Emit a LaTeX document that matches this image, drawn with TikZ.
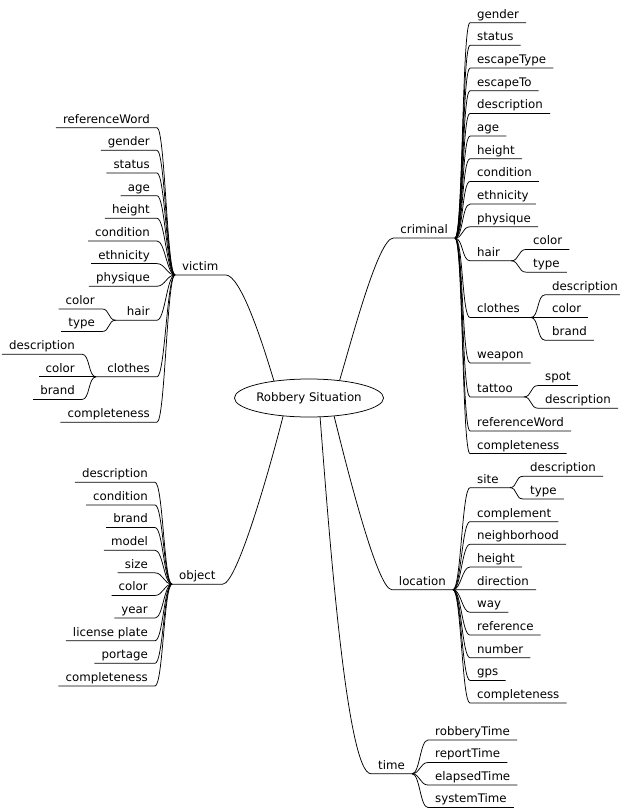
\documentclass[tikz,border=0pt]{standalone}
\usepackage{fontspec}
\setmainfont{DejaVu Sans}
\usetikzlibrary{shapes.geometric}
\begin{document}
\begin{tikzpicture}[x=1pt,y=-1pt,
  lab/.style={inner xsep=7pt, inner ysep=1.8pt, text height=8.7pt, text depth=2.6pt, font=\fontsize{11.8}{13}\selectfont},
  lft/.style={lab, anchor=south east},
  rgt/.style={lab, anchor=south west},
  link/.style={line width=0.75pt, draw=black},
  rootnode/.style={draw, line width=0.75pt, ellipse, fill=white, minimum width=128pt, minimum height=38pt, inner sep=0pt, font=\fontsize{11.8}{13}\selectfont}]
\useasboundingbox (0,0) rectangle (620,809);

% root
\node[rootnode] (root) at (309,398) {Robbery Situation};

% main branches
\node[lab, anchor=south west] (victim) at (175,274.9) {victim};
\node[lab, anchor=south east] (criminal) at (455,238.1) {criminal};
\node[lab, anchor=south west] (object) at (172,584.15) {object};
\node[lab, anchor=south east] (location) at (453,589.7) {location};
\node[lab, anchor=south east] (time) at (412,773.75) {time};

% victim children
\node[lft] (v1) at (157,127.7) {referenceWord};
\node[lft] (v2) at (157,150.35) {gender};
\node[lft] (v3) at (157,173.0) {status};
\node[lft] (v4) at (157,195.65) {age};
\node[lft] (v5) at (157,218.3) {height};
\node[lft] (v6) at (157,240.95) {condition};
\node[lft] (v7) at (157,263.6) {ethnicity};
\node[lft] (v8) at (157,286.25) {physique};
\node[lft] (vhair) at (157,320.2) {\kern4pt hair};
\node[lft] (vh1) at (102,308.9) {color};
\node[lft] (vh2) at (102,331.55) {type};
\node[lft] (vclothes) at (157,376.85) {\kern4pt clothes};
\node[lft] (vc1) at (82,354.2) {description};
\node[lft] (vc2) at (82,376.85) {color};
\node[lft] (vc3) at (82,399.5) {brand};
\node[lft] (v9) at (157,422.15) {completeness};

% criminal children
\node[rgt] (c1) at (470,22.68) {gender};
\node[rgt] (c2) at (470,45.36) {status};
\node[rgt] (c3) at (470,68.04) {escapeType};
\node[rgt] (c4) at (470,90.72) {escapeTo};
\node[rgt] (c5) at (470,113.4) {description};
\node[rgt] (c6) at (470,136.08) {age};
\node[rgt] (c7) at (470,158.76) {height};
\node[rgt] (c8) at (470,181.44) {condition};
\node[rgt] (c9) at (470,204.12) {ethnicity};
\node[rgt] (c10) at (470,226.8) {physique};
\node[rgt] (chair) at (470,260.82) {hair\kern4pt};
\node[rgt] (ch1) at (526,249.48) {color};
\node[rgt] (ch2) at (526,272.16) {type};
\node[rgt] (cclothes) at (470,317.52) {clothes\kern4pt};
\node[rgt] (cc1) at (545,294.84) {description};
\node[rgt] (cc2) at (545,317.52) {color};
\node[rgt] (cc3) at (545,340.2) {brand};
\node[rgt] (c11) at (470,362.88) {weapon};
\node[rgt] (ctattoo) at (470,396.9) {tattoo\kern4pt};
\node[rgt] (ct1) at (538,385.56) {spot};
\node[rgt] (ct2) at (538,408.24) {description};
\node[rgt] (c12) at (470,430.92) {referenceWord};
\node[rgt] (c13) at (470,453.6) {completeness};

% location children
\node[rgt] (lsite) at (470,487.65) {site\kern4pt};
\node[rgt] (ls1) at (523,476.28) {description};
\node[rgt] (ls2) at (523,498.96) {type};
\node[rgt] (l1) at (470,521.64) {complement};
\node[rgt] (l2) at (470,544.32) {neighborhood};
\node[rgt] (l3) at (470,567.0) {height};
\node[rgt] (l4) at (470,589.68) {direction};
\node[rgt] (l5) at (470,612.36) {way};
\node[rgt] (l6) at (470,635.04) {reference};
\node[rgt] (l7) at (470,657.72) {number};
\node[rgt] (l8) at (470,680.4) {gps};
\node[rgt] (l9) at (470,703.08) {completeness};

% time children
\node[rgt] (t1) at (428,740) {robberyTime};
\node[rgt] (t2) at (428,762.5) {reportTime};
\node[rgt] (t3) at (428,785) {elapsedTime};
\node[rgt] (t4) at (428,807.5) {systemTime};

% object children
\node[lft] (o1) at (155,482.3) {description};
\node[lft] (o2) at (155,504.93) {condition};
\node[lft] (o3) at (155,527.56) {brand};
\node[lft] (o4) at (155,550.19) {model};
\node[lft] (o5) at (155,572.82) {size};
\node[lft] (o6) at (155,595.45) {color};
\node[lft] (o7) at (155,618.08) {year};
\node[lft] (o8) at (155,640.71) {license plate};
\node[lft] (o9) at (155,663.34) {portage};
\node[lft] (o10) at (155,685.97) {completeness};

% root connectors
\draw[link] (root.154.7) .. controls +(-12,-40) and +(15,0) .. (victim.south east) -- (victim.south west);
\draw[link] (root.30.4) .. controls +(12,-40) and +(-15,0) .. (criminal.south west) -- (criminal.south east);
\draw[link] (root.215) .. controls +(-10,40) and +(15,0) .. (object.south east) -- (object.south west);
\draw[link] (root.324) .. controls +(10,40) and +(-15,0) .. (location.south west) -- (location.south east);
\draw[link] (root.300) .. controls +(8,100) and +(-25,0) .. (time.south west) -- (time.south east);

% left-side child connectors
\foreach \p/\cl in {victim/{v1,v2,v3,v4,v5,v6,v7,v8,vhair,vclothes,v9}, vhair/{vh1,vh2}, vclothes/{vc1,vc2,vc3}, object/{o1,o2,o3,o4,o5,o6,o7,o8,o9,o10}}
  \foreach \c in \cl
    \draw[link] (\p.south west) .. controls +(-8,0) and +(8,0) .. (\c.south east) -- (\c.south west);

% right-side child connectors
\foreach \p/\cl in {criminal/{c1,c2,c3,c4,c5,c6,c7,c8,c9,c10,chair,cclothes,c11,ctattoo,c12,c13}, chair/{ch1,ch2}, cclothes/{cc1,cc2,cc3}, ctattoo/{ct1,ct2}, location/{lsite,l1,l2,l3,l4,l5,l6,l7,l8,l9}, lsite/{ls1,ls2}, time/{t1,t2,t3,t4}}
  \foreach \c in \cl
    \draw[link] (\p.south east) .. controls +(8,0) and +(-8,0) .. (\c.south west) -- (\c.south east);
\end{tikzpicture}
\end{document}
